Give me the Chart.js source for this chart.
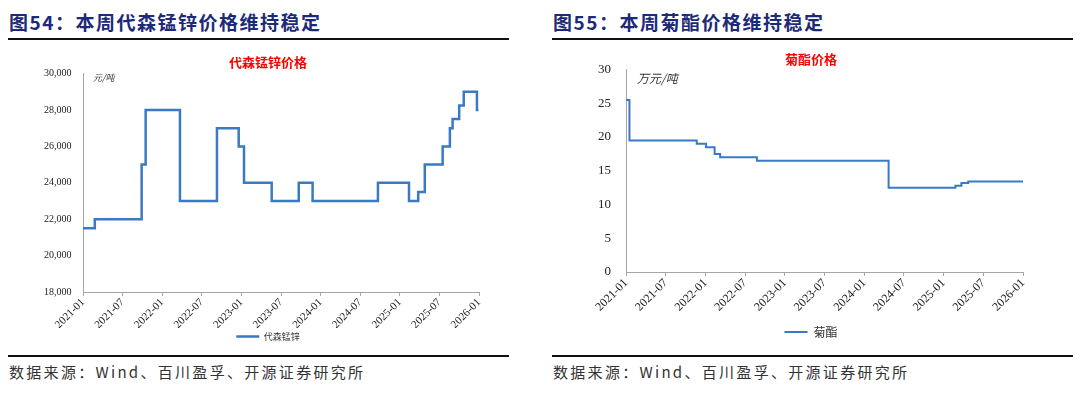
<!DOCTYPE html>
<html>
<head>
<meta charset="utf-8">
<script src="https://cdn.jsdelivr.net/npm/chart.js@4.4.1/dist/chart.umd.min.js"></script>
<style>
  body { margin: 0; background: #fff; width: 1080px; height: 395px; position: relative; overflow: hidden; }
  .head { position: absolute; top: 8px; font-family: "Noto Sans CJK SC"; font-weight: bold; font-size: 19px; letter-spacing: 1.5px; color: #1c2a78; white-space: nowrap; }
  .rule { position: absolute; height: 2px; background: #111; }
  .src { position: absolute; top: 361px; font-family: "Noto Sans CJK SC"; font-size: 15px; letter-spacing: 2.3px; color: #333; white-space: nowrap; }
  .unit { position: absolute; font-family: "Noto Sans CJK SC"; color: #333; font-style: italic; white-space: nowrap; }
  .box { position: absolute; top: 44px; }
</style>
</head>
<body>
<div class="head" style="left:9px">图54：本周代森锰锌价格维持稳定</div>
<div class="rule" style="left:8px;width:501px;top:38px"></div>
<div class="head" style="left:553px">图55：本周菊酯价格维持稳定</div>
<div class="rule" style="left:552px;width:521px;top:38px"></div>

<div class="box" style="left:20px;width:490px;height:310px"><canvas id="chartLeft"></canvas></div>
<div class="box" style="left:560px;width:500px;height:306px"><canvas id="chartRight"></canvas></div>

<div class="unit" style="left:93px;top:71px;font-size:9px">元/吨</div>
<div class="unit" style="left:637px;top:69px;font-size:12px">万元/吨</div>

<div class="rule" style="left:8px;width:501px;top:355px"></div>
<div class="src" style="left:9px">数据来源：Wind、百川盈孚、开源证券研究所</div>
<div class="rule" style="left:552px;width:521px;top:355px"></div>
<div class="src" style="left:553px">数据来源：Wind、百川盈孚、开源证券研究所</div>

<script>
// 代森锰锌 (元/吨) - price change dates
let mzDates = [
  "2021-01-01", "2021-02-25", "2021-09-28", "2021-10-16", "2022-03-22",
  "2022-09-10", "2022-12-19", "2023-01-13", "2023-05-19", "2023-09-22",
  "2023-11-25", "2024-09-22", "2025-02-13", "2025-03-25", "2025-04-25",
  "2025-07-16", "2025-08-19", "2025-09-01", "2025-10-01", "2025-10-22",
  "2025-12-22", "2025-12-29",
];
let mzValues = [
  21500, 22000, 25000, 28000, 23000, 27000, 26000, 24000, 23000, 24000,
  23000, 24000, 23000, 23500, 25000, 26000, 27000, 27500, 28250, 29000,
  28000, 28000,
];

// 菊酯 (万元/吨)
let jzDates = [
  "2021-01-01", "2021-01-17", "2021-11-22", "2022-01-04", "2022-02-13",
  "2022-03-08", "2022-08-25", "2024-04-22", "2025-02-25", "2025-03-22",
  "2025-04-23", "2026-01-01",
];
let jzValues = [25.5, 19.5, 19.0, 18.5, 17.5, 17.0, 16.5, 12.5, 12.8, 13.2, 13.4, 13.4];

// x axis labels every 6 months
let xTickLabels = [
  "2021-01", "2021-07", "2022-01", "2022-07", "2023-01", "2023-07",
  "2024-01", "2024-07", "2025-01", "2025-07", "2026-01",
];

// months since 2021-01
function toMonth(s) {
  let p = s.split("-").map(Number);
  return (p[0] - 2021) * 12 + (p[1] - 1) + (p[2] - 1) / 30.5;
}

function points(dates, values) {
  return dates.map((d, i) => ({ x: toMonth(d), y: values[i] }));
}

let lineBlue = "#3a79c3";
let axisGrey = "#a6a6a6";

function makeChart(id, cfg) {
  return new Chart(document.getElementById(id), {
    type: "line",
    data: {
      datasets: [
        {
          label: cfg.label,
          data: cfg.data,
          stepped: true,
          borderColor: lineBlue,
          backgroundColor: lineBlue,
          borderWidth: cfg.lineWidth,
          pointRadius: 0,
          pointStyle: "line",
        },
      ],
    },
    options: {
      responsive: true,
      maintainAspectRatio: false,
      animation: false,
      layout: { padding: { left: cfg.padLeft, right: cfg.padRight, top: 0, bottom: cfg.padBottom } },
      plugins: {
        title: {
          display: true,
          text: cfg.title,
          color: "#ff0000",
          font: { family: "Noto Sans CJK SC", size: 13, weight: "bold" },
          padding: { top: cfg.titleTop, bottom: cfg.titleBottom },
        },
        legend: {
          position: "bottom",
          labels: {
            usePointStyle: true,
            pointStyleWidth: 23,
            color: "#333",
            font: { family: "Noto Sans CJK SC", size: cfg.legendSize },
            padding: 4,
          },
        },
        tooltip: { enabled: false },
      },
      scales: {
        x: {
          type: "linear",
          min: 0,
          max: 60,
          afterBuildTicks: (axis) => {
            axis.ticks = xTickLabels.map((t, i) => ({ value: i * 6 }));
          },
          afterFit: (axis) => { axis.height = cfg.xHeight; },
          border: { color: axisGrey, width: 1 },
          grid: { drawOnChartArea: false, drawTicks: true, tickLength: 4, color: axisGrey },
          ticks: {
            color: "#222",
            maxRotation: 45,
            minRotation: 45,
            padding: 0,
            font: { family: "Liberation Serif", size: cfg.xFont },
            callback: (v) => xTickLabels[Math.round(v / 6)],
          },
        },
        y: {
          min: cfg.yMin,
          max: cfg.yMax,
          afterFit: (axis) => { axis.width = cfg.yWidth; },
          border: { color: axisGrey, width: 1 },
          grid: { drawOnChartArea: false, drawTicks: false },
          ticks: {
            stepSize: cfg.yStep,
            color: "#222",
            // labels sit left of the axis, outside the narrow axis box
            mirror: true,
            crossAlign: "far",
            padding: cfg.yPad,
            font: { family: "Liberation Serif", size: cfg.yFont },
            callback: cfg.yFormat,
          },
        },
      },
    },
  });
}

makeChart("chartLeft", {
  label: "代森锰锌",
  title: "代森锰锌价格",
  data: points(mzDates, mzValues),
  lineWidth: 2.5,
  yMin: 18000, yMax: 30000, yStep: 2000,
  yFormat: (v) => v.toLocaleString("en-US"),
  yWidth: 26, yPad: -39, yFont: 10,
  xFont: 11, xHeight: 36,
  padLeft: 37, padRight: 31, padBottom: 3,
  titleTop: 10, titleBottom: 4,
  legendSize: 9,
});

makeChart("chartRight", {
  label: "菊酯",
  title: "菊酯价格",
  data: points(jzDates, jzValues),
  lineWidth: 2,
  yMin: 0, yMax: 30, yStep: 5,
  yFormat: (v) => v,
  yWidth: 27, yPad: -28, yFont: 13,
  xFont: 12, xHeight: 50,
  padLeft: 39, padRight: 37, padBottom: 2,
  titleTop: 7, titleBottom: 3,
  legendSize: 12,
});
</script>
</body>
</html>
